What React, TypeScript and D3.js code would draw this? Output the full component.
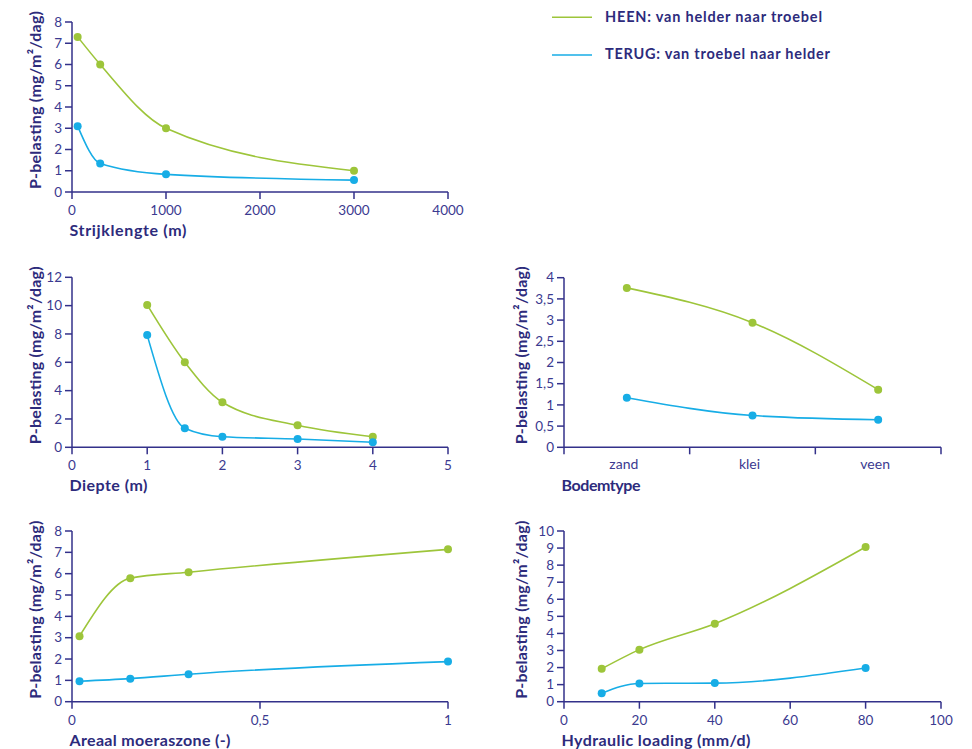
import React from 'react';
import * as d3 from 'd3';

// ---------- data ----------
const legendLabels = ['HEEN: van helder naar troebel', 'TERUG: van troebel naar helder'];
const yTitle = 'P-belasting (mg/m²/dag)';

const strijkX = [60, 300, 1000, 3000];
const strijkHeen = [7.3, 6.0, 3.0, 1.0];
const strijkTerug = [3.1, 1.34, 0.83, 0.56];
const strijkXTicks = [0, 1000, 2000, 3000, 4000];
const strijkYTicks = [0, 1, 2, 3, 4, 5, 6, 7, 8];

const diepteX = [1, 1.5, 2, 3, 4];
const diepteHeen = [10.05, 6.0, 3.18, 1.55, 0.75];
const diepteTerug = [7.92, 1.35, 0.75, 0.59, 0.36];
const diepteXTicks = [0, 1, 2, 3, 4, 5];
const diepteYTicks = [0, 2, 4, 6, 8, 10, 12];

const bodemCats = ['zand', 'klei', 'veen'];
const bodemHeen = [3.76, 2.94, 1.36];
const bodemTerug = [1.17, 0.75, 0.65];
const bodemYTicks = [0, 0.5, 1, 1.5, 2, 2.5, 3, 3.5, 4];

const moerasX = [0.02, 0.155, 0.31, 1];
const moerasHeen = [3.07, 5.79, 6.07, 7.14];
const moerasTerug = [0.96, 1.08, 1.29, 1.88];
const moerasXTicks = [0, 0.5, 1];
const moerasYTicks = [0, 1, 2, 3, 4, 5, 6, 7, 8];

const hydrX = [10, 20, 40, 80];
const hydrHeen = [1.93, 3.05, 4.57, 9.06];
const hydrTerug = [0.49, 1.07, 1.09, 1.97];
const hydrXTicks = [0, 20, 40, 60, 80, 100];
const hydrYTicks = [0, 1, 2, 3, 4, 5, 6, 7, 8, 9, 10];

// ---------- style ----------
const GREEN = '#9dc53a';
const BLUE = '#17ade6';
const AXIS = '#33318a';
const TICKTXT = '#3b3a90';
const TITLE = '#2d2b7c';
const FONT = 'Lato, "Open Sans", sans-serif';

const nl = d3.formatLocale({ decimal: ',', thousands: '', grouping: [3], currency: ['', ''] });
const fmt = (v: number) => nl.format('~g')(v);

type PanelProps = {
  x0: number; x1: number; yTop: number; yBot: number;
  xNum?: number[]; xCats?: string[]; xDomain?: [number, number]; xTicks?: number[];
  yMax: number; yTicks: number[];
  heen: number[]; terug: number[];
  xTitle: string; xTitleLen: number; yTitleX: number;
};

function Panel(p: PanelProps) {
  const y = d3.scaleLinear().domain([0, p.yMax]).range([p.yBot, p.yTop]);
  let px: number[] = [];
  let xTickEls: React.ReactNode[] = [];
  if (p.xCats) {
    const band = d3.scaleBand<string>().domain(p.xCats).range([p.x0, p.x1]);
    px = p.xCats.map((c) => (band(c) as number) + band.bandwidth() / 2);
    const bounds = [...p.xCats.map((c) => band(c) as number), p.x1];
    xTickEls = [
      ...bounds.map((b, i) => (
        <line key={'bt' + i} x1={b} x2={b} y1={p.yBot} y2={p.yBot + 7} stroke={AXIS} strokeWidth={1.5} />
      )),
      ...p.xCats.map((c, i) => (
        <text key={'bl' + i} x={px[i] - 3} y={p.yBot + 22} textAnchor="middle" fontSize={14} fill={TICKTXT} fontFamily={FONT}>{c}</text>
      )),
    ];
  } else {
    const x = d3.scaleLinear().domain(p.xDomain as [number, number]).range([p.x0, p.x1]);
    px = (p.xNum as number[]).map((v) => x(v));
    xTickEls = (p.xTicks as number[]).map((t, i) => (
      <g key={'xt' + i}>
        <line x1={x(t)} x2={x(t)} y1={p.yBot} y2={p.yBot + 7} stroke={AXIS} strokeWidth={1.5} />
        <text x={x(t)} y={p.yBot + 23} textAnchor="middle" fontSize={13.5} fill={TICKTXT} fontFamily={FONT}>{fmt(t)}</text>
      </g>
    ));
  }
  const line = d3.line<[number, number]>().x((d) => d[0]).y((d) => d[1]).curve(d3.curveMonotoneX);
  const series = [
    { vals: p.heen, color: GREEN },
    { vals: p.terug, color: BLUE },
  ];
  return (
    <g>
      {series.map((s, si) => {
        const pts: [number, number][] = s.vals.map((v, i) => [px[i], y(v)]);
        return (
          <g key={'s' + si}>
            <path d={line(pts) as string} fill="none" stroke={s.color} strokeWidth={1.6} />
            {pts.map((pt, i) => (
              <circle key={i} cx={pt[0]} cy={pt[1]} r={4} fill={s.color} />
            ))}
          </g>
        );
      })}
      <line x1={p.x0} x2={p.x0} y1={p.yTop} y2={p.yBot} stroke={AXIS} strokeWidth={1.5} />
      <line x1={p.x0} x2={p.x1} y1={p.yBot} y2={p.yBot} stroke={AXIS} strokeWidth={1.5} />
      {p.yTicks.map((t, i) => (
        <g key={'yt' + i}>
          <line x1={p.x0 - 7} x2={p.x0} y1={y(t)} y2={y(t)} stroke={AXIS} strokeWidth={1.5} />
          <text x={p.x0 - 10} y={y(t) + 4.7} textAnchor="end" fontSize={13.5} fill={TICKTXT} fontFamily={FONT}>{fmt(t)}</text>
        </g>
      ))}
      {xTickEls}
      <text x={p.x0 - 2.5} y={p.yBot + 44} fontSize={16} fontWeight="bold" fill={TITLE} fontFamily={FONT}
        textLength={p.xTitleLen} lengthAdjust="spacing">{p.xTitle}</text>
      <text transform={`translate(${p.yTitleX},${p.yBot - 3}) rotate(-90)`} x={0} y={0} fontSize={16} fontWeight="bold"
        fill={TITLE} fontFamily={FONT} textLength={178} lengthAdjust="spacing">{yTitle}</text>
    </g>
  );
}

export default function App() {
  const legendRows = [
    { color: GREEN, lineY: 17.3, textY: 22.3, len: 217 },
    { color: BLUE, lineY: 55, textY: 58.6, len: 225 },
  ];
  return (
    <svg width={972} height={749} style={{ position: 'absolute', left: 0, top: 0, background: '#fff' }}>
      <rect x={0} y={0} width={972} height={749} fill="#fff" />
      {legendRows.map((r, i) => (
        <g key={'lg' + i}>
          <line x1={552} x2={592} y1={r.lineY} y2={r.lineY} stroke={r.color} strokeWidth={1.6} />
          <text x={605} y={r.textY} fontSize={14.5} fontWeight="bold" fill={TITLE} fontFamily={FONT}
            textLength={r.len} lengthAdjust="spacing">{legendLabels[i]}</text>
        </g>
      ))}
      <Panel x0={72} x1={448} yTop={22} yBot={192} xNum={strijkX} xDomain={[0, 4000]} xTicks={strijkXTicks}
        yMax={8} yTicks={strijkYTicks} heen={strijkHeen} terug={strijkTerug} xTitle="Strijklengte (m)" xTitleLen={117} yTitleX={41} />
      <Panel x0={72} x1={448} yTop={277.3} yBot={447.3} xNum={diepteX} xDomain={[0, 5]} xTicks={diepteXTicks}
        yMax={12} yTicks={diepteYTicks} heen={diepteHeen} terug={diepteTerug} xTitle="Diepte (m)" xTitleLen={78} yTitleX={41} />
      <Panel x0={564} x1={941} yTop={277.7} yBot={447.3} xCats={bodemCats}
        yMax={4} yTicks={bodemYTicks} heen={bodemHeen} terug={bodemTerug} xTitle="Bodemtype" xTitleLen={79} yTitleX={526.5} />
      <Panel x0={72} x1={448} yTop={531} yBot={701.7} xNum={moerasX} xDomain={[0, 1]} xTicks={moerasXTicks}
        yMax={8} yTicks={moerasYTicks} heen={moerasHeen} terug={moerasTerug} xTitle="Areaal moeraszone (-)" xTitleLen={161} yTitleX={41} />
      <Panel x0={564} x1={941} yTop={531} yBot={701.7} xNum={hydrX} xDomain={[0, 100]} xTicks={hydrXTicks}
        yMax={10} yTicks={hydrYTicks} heen={hydrHeen} terug={hydrTerug} xTitle="Hydraulic loading (mm/d)" xTitleLen={189} yTitleX={526.5} />
    </svg>
  );
}
